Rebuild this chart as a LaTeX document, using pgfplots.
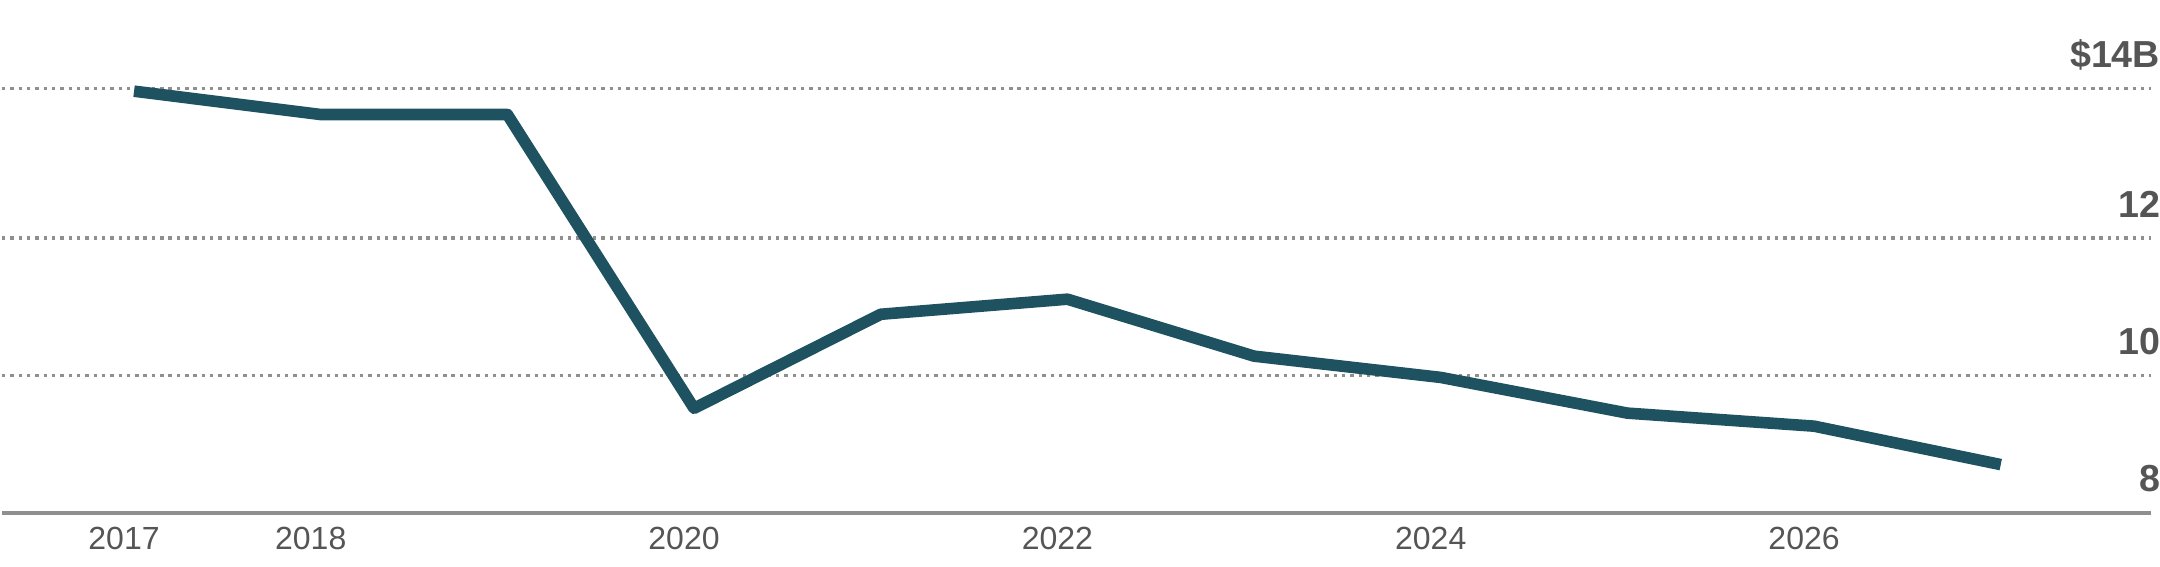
\documentclass[border=0pt]{standalone}
\usepackage{pgfplots}
\pgfplotsset{compat=1.18}
\usepackage{fontspec}
\setmainfont{Liberation Sans}
\definecolor{linec}{HTML}{1E5260}
\definecolor{gridc}{HTML}{8F8F8F}
\definecolor{labc}{HTML}{555555}
\begin{document}
\begin{tikzpicture}
\begin{axis}[
  scale only axis, width=537pt, height=141.25pt,
  xmin=2016.2926, xmax=2027.804,
  ymin=7.228, ymax=15.4625,
  axis line style={draw=none},
  major tick length=0pt,
  xtick={2017,2018,2020,2022,2024,2026},
  xticklabels={2017,2018,2020,2022,2024,2026},
  xticklabel style={anchor=center, yshift=6.75pt, xshift=-2.5pt, font=\fontsize{8}{9}\selectfont, text=labc, inner sep=0pt},
  ytick={10,12,14.18},
  yticklabels={10,12,\$14B},
  yticklabel pos=right,
  yticklabel style={anchor=base east, xshift=2.5pt, yshift=5.25pt, inner sep=0pt, font=\fontsize{9.4}{10}\selectfont\bfseries, text=labc},
  extra y ticks={8}, extra y tick labels={8},
  extra y tick style={grid style={solid, draw=gridc, line width=1pt}},
  ymajorgrids,
  grid style={draw=gridc, line width=0.85pt, dash pattern=on 0.85pt off 1.23pt},
  clip=false,
]
\addplot[linec, line width=2.9pt, line join=round, mark=none] coordinates {
  (2017,14.14) (2018,13.80) (2019,13.80) (2020,9.52) (2021,10.89)
  (2022,11.11) (2023,10.28) (2024,9.97) (2025,9.45) (2026,9.26) (2027,8.70)
};
\end{axis}
\end{tikzpicture}
\end{document}
